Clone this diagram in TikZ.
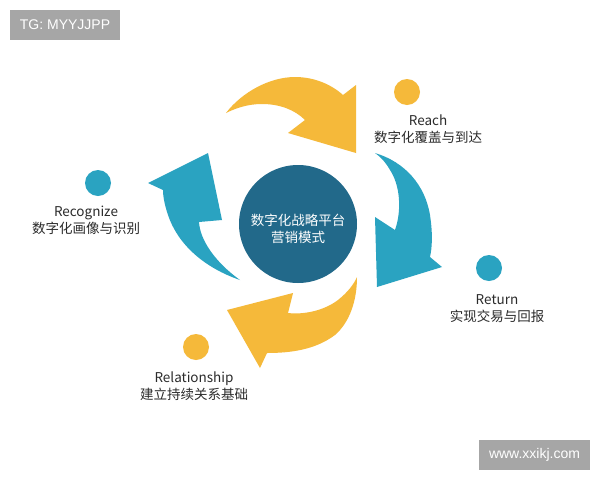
\documentclass[tikz,border=0pt]{standalone}
\usepackage{fontspec}
\setmainfont{Noto Sans CJK SC}
\newfontfamily\wmfont{Liberation Sans}
\definecolor{cyel}{HTML}{F5B93A}
\definecolor{cblue}{HTML}{2AA3C1}
\definecolor{cdark}{HTML}{22698A}
\definecolor{ctext}{HTML}{2B2B2B}
\definecolor{cwm}{HTML}{A6A6A6}
\begin{document}
\begin{tikzpicture}[x=1pt,y=-1pt,
  dot/.style={circle,inner sep=0pt,minimum size=26pt},
  lbl/.style={text=ctext,font=\fontsize{13.5}{17}\selectfont,align=center,inner sep=0pt},
  wm/.style={fill=cwm,text=white,font=\wmfont\fontsize{14}{16}\selectfont,inner sep=0pt}]
\useasboundingbox (0,0) rectangle (600,480);
\fill[white] (0,0) rectangle (600,480);
% watermarks
\node[wm,minimum width=110pt,minimum height=30pt] (wmtl) at (65,25) {TG: MYYJJPP};
\node[wm,minimum width=111pt,minimum height=30pt] (wmbr) at (534.5,455) {www.xxikj.com};
% top arrow (yellow)
\fill[cyel] (226,113) .. controls (242,92) and (270,77) .. (295,77)
  .. controls (315,77) and (332,85) .. (343,95) -- (356,85) -- (356,153) -- (288,133) -- (305,120)
  .. controls (295,110) and (280,104) .. (262,104) .. controls (248,104) and (236,108) .. (226,113) -- cycle;
% right arrow (blue)
\fill[cblue] (375,153) .. controls (405,162) and (425,185) .. (430,215)
  .. controls (433,235) and (432,248) .. (430,257) -- (442,267) -- (377,287) -- (375,217) -- (395,230)
  .. controls (402,210) and (400,185) .. (390,170) .. controls (386,163) and (381,157) .. (375,153) -- cycle;
% bottom arrow (yellow)
\fill[cyel] (357,277) .. controls (357,300) and (350,322) .. (335,335)
  .. controls (315,350) and (290,353) .. (267,353) -- (260,368) -- (227,310) -- (293,293) -- (288,313)
  .. controls (305,315) and (325,310) .. (338,300) .. controls (348,292) and (354,284) .. (357,277) -- cycle;
% left arrow (blue)
\fill[cblue] (240,280) .. controls (205,268) and (178,245) .. (168,215)
  .. controls (164,203) and (163,195) .. (163,190) -- (148,183) -- (208,153) -- (222,220) -- (199,222)
  .. controls (200,240) and (215,262) .. (240,280) -- cycle;
% center
\node[circle,fill=cdark,minimum size=118pt,inner sep=0pt] (hub) at (298,224) {};
\node[text=white,font=\fontsize{13.5}{17}\selectfont,align=center,inner sep=0pt] (hubtxt) at (298,228.5) {数字化战略平台\\营销模式};
% dots
\node[dot,fill=cyel] (dreach) at (407,92) {};
\node[dot,fill=cblue] (dreturn) at (489,268) {};
\node[dot,fill=cyel] (drel) at (196,347) {};
\node[dot,fill=cblue] (drec) at (98,183) {};
% labels
\node[lbl] (lreach) at (428,129) {Reach\\数字化覆盖与到达};
\node[lbl] (lreturn) at (497,309) {Return\\实现交易与回报};
\node[lbl] (lrel) at (194,386) {Relationship\\建立持续关系基础};
\node[lbl] (lrec) at (86,220) {Recognize\\数字化画像与识别};
\end{tikzpicture}
\end{document}
